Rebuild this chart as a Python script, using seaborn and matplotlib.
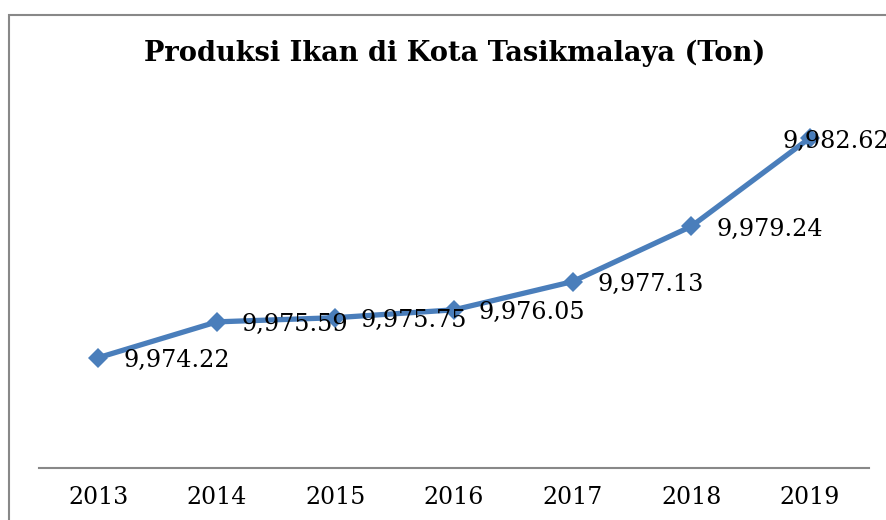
import matplotlib
matplotlib.use("Agg")
import matplotlib.pyplot as plt
from matplotlib.patches import Rectangle
import seaborn as sns
import pandas as pd

years = ["2013", "2014", "2015", "2016", "2017", "2018", "2019"]
production = [9974.22, 9975.59, 9975.75, 9976.05, 9977.13, 9979.24, 9982.62]
title = "Produksi Ikan di Kota Tasikmalaya (Ton)"

sns.set_theme(style="white")
plt.rcParams["font.family"] = ["DejaVu Serif"]

df = pd.DataFrame({"Tahun": years, "Produksi": production})

fig = plt.figure(figsize=(8.86, 5.2), dpi=100)
ax = fig.add_axes([39 / 886, 1 - 468 / 520, (869 - 39) / 886, (468 - 102) / 520])

blue = "#4A7EBB"
sns.lineplot(data=df, x="Tahun", y="Produksi", ax=ax, color=blue, linewidth=3.8,
             marker="D", markersize=10, markeredgewidth=0, sort=False)

ax.set_xlim(-0.5, len(years) - 0.5)
ax.set_ylim(9970, 9984)
ax.set_yticks([])
ax.set_xlabel("")
ax.set_ylabel("")
for s in ["top", "right", "left"]:
    ax.spines[s].set_visible(False)
ax.spines["bottom"].set_color("#888888")
ax.spines["bottom"].set_linewidth(1.5)
ax.tick_params(axis="x", length=0, pad=13, labelsize=17, colors="black")

for i, (yr, v) in enumerate(zip(years, production)):
    dx = -27 if i == len(years) - 1 else 25
    ax.annotate(f"{v:,.2f}", xy=(i, v), xytext=(dx, -3), textcoords="offset pixels",
                ha="left", va="center", fontsize=17.2, color="black",
                annotation_clip=False)

fig.text(455 / 886, 1 - 53 / 520, title, ha="center", va="center",
         fontsize=19.6, fontweight="bold", color="black")

fig.patches.append(Rectangle((9 / 886, -0.2), 1.5, 1 - 15 / 520 + 0.2,
                             transform=fig.transFigure, fill=False,
                             edgecolor="#888888", linewidth=1.5))

fig.savefig("out.png", dpi=100)
